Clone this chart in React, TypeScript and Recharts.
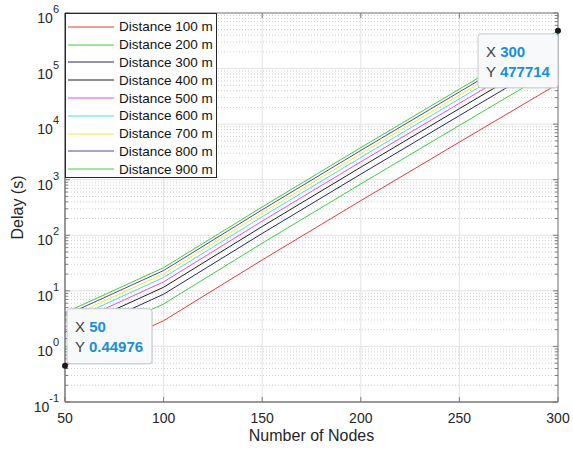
import React from "react";
import {
  LineChart,
  Line,
  XAxis,
  YAxis,
  CartesianGrid,
  ReferenceLine,
  ReferenceDot,
} from "recharts";

// x values (number of nodes)
const nodes = [50, 100, 150, 200, 250, 300];

// delay in seconds, one array per distance
const delay100 = [0.44976, 2.9, 36, 420, 4750, 53079];
const delay200 = [0.8995, 5.8, 72, 840, 9500, 106158];
const delay300 = [1.3493, 8.7, 108, 1260, 14250, 159237];
const delay400 = [1.799, 11.6, 144, 1680, 19000, 212316];
const delay500 = [2.2488, 14.5, 180, 2100, 23750, 265395];
const delay600 = [2.6986, 17.4, 216, 2520, 28500, 318474];
const delay700 = [3.1483, 20.3, 252, 2940, 33250, 371553];
const delay800 = [3.5981, 23.2, 288, 3360, 38000, 424632];
const delay900 = [4.0478, 26.1, 324, 3780, 42750, 477714];

const seriesKeys = ["d100", "d200", "d300", "d400", "d500", "d600", "d700", "d800", "d900"];
const seriesNames = [
  "Distance 100 m",
  "Distance 200 m",
  "Distance 300 m",
  "Distance 400 m",
  "Distance 500 m",
  "Distance 600 m",
  "Distance 700 m",
  "Distance 800 m",
  "Distance 900 m",
];
const seriesColors = [
  "#e03c3c",
  "#3fcc3f",
  "#26266e",
  "#1e1e1e",
  "#e050e0",
  "#50dcdc",
  "#ebeb3a",
  "#4a4a96",
  "#3fcc3f",
];
const allDelays = [
  delay100, delay200, delay300, delay400, delay500,
  delay600, delay700, delay800, delay900,
];

const xTicks = [50, 100, 150, 200, 250, 300];
const yExponents = [-1, 0, 1, 2, 3, 4, 5, 6];
const yTicks = yExponents.map((e) => Math.pow(10, e));
const minorSteps = [2, 3, 4, 5, 6, 7, 8, 9];
const yMinor = yExponents
  .slice(0, -1)
  .flatMap((e) => minorSteps.map((m) => m * Math.pow(10, e)));

// data tips shown on the figure
const tipLow = { x: 50, y: 0.44976 };
const tipHigh = { x: 300, y: 477714 };

const data = nodes.map((n, i) => {
  const row: Record<string, number> = { n };
  seriesKeys.forEach((k, s) => (row[k] = allDelays[s][i]));
  return row;
});

const FONT = '"Liberation Sans", Arial, Helvetica, sans-serif';
const AXIS = "#7a7a7a";
const INK = "#262626";

function PowerTick({ x, y, payload }: any) {
  const exp = Math.round(Math.log10(payload.value));
  return (
    <text x={x} y={y} textAnchor="end" fill={INK} fontSize={14} fontFamily={FONT}>
      <tspan dy={10}>10</tspan>
      <tspan dy={-10} fontSize={11}>
        {exp}
      </tspan>
    </text>
  );
}

function makeTip(dx: number, dy: number, w: number, h: number, xs: string, ys: string) {
  return (props: any) => {
    const vb = props.viewBox || {};
    const cx = vb.x + (vb.width || 0) / 2;
    const cy = vb.y + (vb.height || 0) / 2;
    const bx = cx + dx;
    const by = cy + dy;
    return (
      <g fontFamily={FONT} fontSize={15}>
        <rect
          x={bx + 1}
          y={by + 1}
          width={w}
          height={h}
          rx={3}
          fill="#000"
          opacity={0.06}
        />
        <rect
          x={bx}
          y={by}
          width={w}
          height={h}
          rx={3}
          fill="#f8f9fb"
          stroke="#c4c8cc"
          strokeWidth={1}
        />
        <text x={bx + 8} y={by + 23} fill="#404040">
          X <tspan fill="#1a8fd6" fontWeight="bold">{xs}</tspan>
        </text>
        <text x={bx + 8} y={by + 43} fill="#404040">
          Y <tspan fill="#1a8fd6" fontWeight="bold">{ys}</tspan>
        </text>
      </g>
    );
  };
}

export default function App() {
  return (
    <div
      style={{
        position: "absolute",
        left: 0,
        top: 0,
        width: 573,
        height: 453,
        background: "#fff",
      }}
    >
      <LineChart
        width={573}
        height={453}
        data={data}
        margin={{ top: 13, right: 15, bottom: 0, left: 8 }}
      >
        <CartesianGrid stroke="#e3e3e3" strokeWidth={1} />
        {yMinor.map((v) => (
          <ReferenceLine
            key={"mg" + v}
            y={v}
            stroke="#cfcfcf"
            strokeDasharray="1 2"
            strokeWidth={1}
          />
        ))}
        {yMinor.map((v) => (
          <ReferenceLine
            key={"ml" + v}
            segment={[{ x: 50, y: v }, { x: 51.5, y: v }]}
            stroke={AXIS}
          />
        ))}
        {yMinor.map((v) => (
          <ReferenceLine
            key={"mr" + v}
            segment={[{ x: 298.5, y: v }, { x: 300, y: v }]}
            stroke={AXIS}
          />
        ))}
        {yTicks.map((v) => (
          <ReferenceLine
            key={"tl" + v}
            segment={[{ x: 50, y: v }, { x: 52.5, y: v }]}
            stroke={AXIS}
          />
        ))}
        {yTicks.map((v) => (
          <ReferenceLine
            key={"tr" + v}
            segment={[{ x: 297.5, y: v }, { x: 300, y: v }]}
            stroke={AXIS}
          />
        ))}
        {xTicks.map((v) => (
          <ReferenceLine
            key={"tb" + v}
            segment={[{ x: v, y: 0.1 }, { x: v, y: 0.123 }]}
            stroke={AXIS}
          />
        ))}
        {xTicks.map((v) => (
          <ReferenceLine
            key={"tt" + v}
            segment={[{ x: v, y: 1e6 }, { x: v, y: 8.1e5 }]}
            stroke={AXIS}
          />
        ))}
        <ReferenceLine y={1e6} stroke={AXIS} />
        <ReferenceLine x={300} stroke={AXIS} />
        <XAxis
          dataKey="n"
          type="number"
          domain={[50, 300]}
          ticks={xTicks}
          height={51}
          tickLine={false}
          tickSize={0}
          tickMargin={11}
          axisLine={{ stroke: AXIS, strokeWidth: 1.5 }}
          tick={{ fontSize: 14, fill: INK, fontFamily: FONT }}
          label={{
            content: (p: any) => {
              const vb = p.viewBox;
              return (
                <text
                  x={vb.x + vb.width / 2}
                  y={441}
                  textAnchor="middle"
                  fontSize={16}
                  fill={INK}
                  fontFamily={FONT}
                >
                  Number of Nodes
                </text>
              );
            },
          }}
        />
        <YAxis
          scale="log"
          domain={[0.1, 1e6]}
          allowDataOverflow
          ticks={yTicks}
          width={57}
          tickLine={false}
          tickSize={0}
          tickMargin={6}
          axisLine={{ stroke: AXIS, strokeWidth: 1.5 }}
          tick={<PowerTick />}
          label={{
            content: (p: any) => {
              const vb = p.viewBox;
              const cy = vb.y + vb.height / 2;
              return (
                <text
                  x={17.5}
                  y={cy}
                  dy="0.35em"
                  textAnchor="middle"
                  fontSize={16}
                  fill={INK}
                  fontFamily={FONT}
                  transform={`rotate(-90 17.5 ${cy})`}
                >
                  Delay (s)
                </text>
              );
            },
          }}
        />
        {seriesKeys.map((k, i) => (
          <Line
            key={k}
            type="linear"
            dataKey={k}
            name={seriesNames[i]}
            stroke={seriesColors[i]}
            strokeWidth={1}
            dot={false}
            isAnimationActive={false}
          />
        ))}
        <ReferenceDot
          x={tipLow.x}
          y={tipLow.y}
          r={3}
          fill="#1a1a1a"
          stroke="none"
          label={{ content: makeTip(2, -57, 85, 55, "50", "0.44976") }}
        />
        <ReferenceDot
          x={tipHigh.x}
          y={tipHigh.y}
          r={3}
          fill="#1a1a1a"
          stroke="none"
          label={{ content: makeTip(-80, 3, 80, 54, "300", "477714") }}
        />
      </LineChart>
      <div
        style={{
          position: "absolute",
          left: 65,
          top: 13,
          width: 152,
          height: 165,
          boxSizing: "border-box",
          border: "1px solid #262626",
          background: "#fff",
          paddingTop: 4,
          fontFamily: FONT,
          fontSize: 13.5,
          color: "#111",
        }}
      >
        {seriesNames.map((name, i) => (
          <div
            key={name}
            style={{ height: 17.8, display: "flex", alignItems: "center" }}
          >
            <svg width={51} height={4} style={{ marginLeft: 2, flex: "none" }}>
              <line x1={0} y1={2} x2={46} y2={2} stroke={seriesColors[i]} strokeWidth={1} />
            </svg>
            <span style={{ whiteSpace: "nowrap" }}>{name}</span>
          </div>
        ))}
      </div>
    </div>
  );
}
